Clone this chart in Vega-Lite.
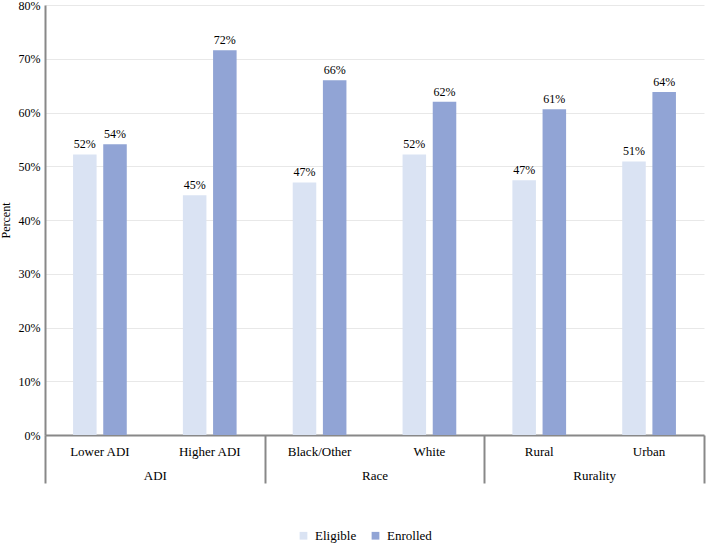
{
  "$schema": "https://vega.github.io/schema/vega-lite/v6.json",
  "autosize": {"type": "none"},
  "padding": {"left": 45, "top": 5, "right": 2, "bottom": 109},
  "width": 659,
  "height": 430,
  "config": {
    "font": "Liberation Serif",
    "axis": {"labelFont": "Liberation Serif", "titleFont": "Liberation Serif"},
    "legend": {"labelFont": "Liberation Serif"},
    "text": {"font": "Liberation Serif"},
    "view": {"stroke": null}
  },
  "data": {
    "values": [
      {"group": "ADI", "sub": "Lower ADI", "series": "Eligible", "value": 0.522},
      {"group": "ADI", "sub": "Lower ADI", "series": "Enrolled", "value": 0.541},
      {"group": "ADI", "sub": "Higher ADI", "series": "Eligible", "value": 0.446},
      {"group": "ADI", "sub": "Higher ADI", "series": "Enrolled", "value": 0.716},
      {"group": "Race", "sub": "Black/Other", "series": "Eligible", "value": 0.470},
      {"group": "Race", "sub": "Black/Other", "series": "Enrolled", "value": 0.660},
      {"group": "Race", "sub": "White", "series": "Eligible", "value": 0.522},
      {"group": "Race", "sub": "White", "series": "Enrolled", "value": 0.620},
      {"group": "Rurality", "sub": "Rural", "series": "Eligible", "value": 0.474},
      {"group": "Rurality", "sub": "Rural", "series": "Enrolled", "value": 0.606},
      {"group": "Rurality", "sub": "Urban", "series": "Eligible", "value": 0.509},
      {"group": "Rurality", "sub": "Urban", "series": "Enrolled", "value": 0.638}
    ]
  },
  "layer": [
    {
      "encoding": {
        "x": {
          "field": "sub",
          "type": "nominal",
          "sort": null,
          "title": null,
          "scale": {"paddingInner": 0, "paddingOuter": 0},
          "axis": {
            "orient": "bottom",
            "labelAngle": 0,
            "labelFontSize": 13,
            "labelColor": "#000",
            "labelPadding": 10,
            "ticks": false,
            "domainColor": "#888",
            "domainWidth": 2
          }
        },
        "xOffset": {
          "field": "series",
          "type": "nominal",
          "sort": ["Eligible", "Enrolled"],
          "scale": {"paddingInner": 0.22, "paddingOuter": 0.93}
        },
        "y": {
          "field": "value",
          "type": "quantitative",
          "title": "Percent",
          "scale": {"domain": [0, 0.8]},
          "axis": {
            "format": ".0%",
            "values": [0, 0.1, 0.2, 0.3, 0.4, 0.5, 0.6, 0.7, 0.8],
            "labelFontSize": 12,
            "labelColor": "#000",
            "labelPadding": 5,
            "ticks": false,
            "domainColor": "#888",
            "domainWidth": 2,
            "gridColor": "#e8e8e8",
            "titleFontSize": 12,
            "titleFontWeight": "normal",
            "titleColor": "#000",
            "titlePadding": 6
          }
        }
      },
      "layer": [
        {
          "mark": {"type": "bar"},
          "encoding": {
            "color": {
              "field": "series",
              "type": "nominal",
              "title": null,
              "scale": {"domain": ["Eligible", "Enrolled"], "range": ["#dae3f3", "#91a4d5"]},
              "legend": {
                "orient": "none",
                "legendX": 252,
                "legendY": 524,
                "direction": "horizontal",
                "symbolType": "square",
                "symbolSize": 60,
                "symbolStrokeWidth": 0,
                "labelFontSize": 13,
                "labelColor": "#000",
                "labelOffset": 5,
                "columnPadding": 12
              }
            }
          }
        },
        {
          "mark": {"type": "text", "baseline": "bottom", "dy": -3, "fontSize": 12, "color": "#000"},
          "encoding": {
            "text": {"field": "value", "type": "quantitative", "format": ".0%"}
          }
        }
      ]
    },
    {
      "mark": {"type": "text", "text": ""},
      "encoding": {
        "x": {
          "field": "group",
          "type": "nominal",
          "sort": null,
          "title": null,
          "scale": {"paddingInner": 0, "paddingOuter": 0},
          "axis": {
            "orient": "bottom",
            "labelAngle": 0,
            "labelFontSize": 13,
            "labelColor": "#000",
            "labelPadding": -14,
            "tickBand": "extent",
            "tickSize": 48,
            "tickColor": "#888",
            "tickWidth": 2,
            "domain": false
          }
        }
      }
    }
  ],
  "resolve": {"scale": {"x": "independent"}, "axis": {"x": "independent"}}
}
